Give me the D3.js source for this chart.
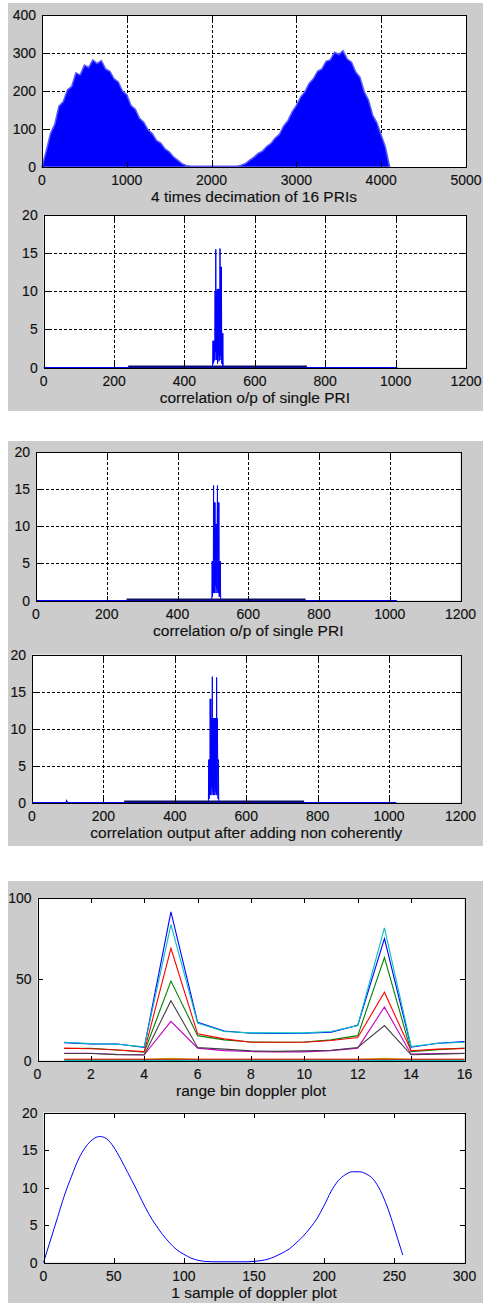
<!DOCTYPE html>
<html>
<head>
<meta charset="utf-8">
<script src="https://cdn.jsdelivr.net/npm/d3@7"></script>
<style>
  body { margin: 0; background: #fff; }
  svg { display: block; }
  text { font-family: "Liberation Sans", Arial, Helvetica, sans-serif; fill: #111; stroke: #111; stroke-width: 0.15px; }
</style>
</head>
<body>
<svg id="fig" width="483" height="1303"></svg>
<script>
// ---------- Figure 1, top: 4 times decimation of 16 PRIs ----------
const decimSpacing = 50;   // samples between stored magnitudes
const decimValues = [
  0, 42, 88, 112, 160, 172, 203, 212, 248, 242,
  268, 262, 282, 272, 280, 258, 252, 232, 224, 200,
  190, 162, 152, 128, 118, 98, 88, 70, 63, 48,
  40, 27, 18, 9, 4, 2, 2, 2, 2, 2,
  2, 2, 2, 2, 2, 2, 2, 5, 9, 18,
  26, 36, 42, 54, 62, 76, 86, 108, 122, 145,
  162, 184, 198, 220, 232, 252, 258, 278, 282, 302,
  296, 306, 284, 276, 250, 236, 198, 176, 136, 116,
  84, 52, 0
];
const decimXTicks = [0, 1000, 2000, 3000, 4000, 5000];
const decimYTicks = [0, 100, 200, 300, 400];

// ---------- correlation o/p of single PRI (first figure) ----------
const corrATicksX = [0, 200, 400, 600, 800, 1000, 1200];
const corrTicksY = [0, 5, 10, 15, 20];
const corrAZero = [[0, 0], [1005, 0]];
const corrAFloor = [[240, 0.12], [748, 0.12]];
const corrAPeak = [
  [480, 0], [481, 3.5], [482, 0.5], [483, 3.5], [484, 0.8], [485, 3.5], [486, 1],
  [487, 10], [488, 2], [489, 15.5], [490, 1], [491, 10], [492, 1], [493, 10.3],
  [494, 0.5], [495, 10.3], [496, 1.5], [497, 10.3], [498, 0.8], [499, 10.3], [500, 1],
  [501, 15.6], [502, 1.5], [503, 13.2], [504, 1], [505, 13.2], [506, 0.5], [507, 4.5],
  [508, 0.3], [509, 4.5], [510, 0]
];

// ---------- correlation o/p of single PRI (second figure) ----------
const corrBZero = [[0, 0], [1020, 0]];
const corrBFloor = [[256, 0.12], [762, 0.12]];
const corrBPeak = [
  [497, 0], [498, 5.3], [499, 0.5], [500, 5.3], [501, 1], [502, 15.5], [503, 1],
  [504, 13.2], [505, 1], [506, 13.2], [507, 2], [508, 10.3], [509, 1], [510, 10.3],
  [511, 1.5], [512, 10.3], [513, 15.5], [514, 1], [515, 13.2], [516, 1], [517, 13.2],
  [518, 0.5], [519, 5.3], [520, 0.5], [521, 5.3], [522, 0]
];

// ---------- correlation output after adding non coherently ----------
const corrCZero = [[0, 0], [95, 0], [97, 0.25], [99, 0], [1020, 0]];
const corrCFloor = [[258, 0.12], [762, 0.12]];
const corrCPeak = [
  [494, 0], [495, 5.8], [496, 0.5], [497, 5.8], [498, 1], [499, 14], [500, 1],
  [501, 14], [502, 2], [503, 11.4], [504, 1], [505, 17], [506, 1.5], [507, 11.4],
  [508, 1], [509, 11.4], [510, 2], [511, 11.4], [512, 1], [513, 11.4], [514, 1.5],
  [515, 11.4], [516, 1], [517, 16.9], [518, 1], [519, 11.4], [520, 5.8], [521, 0.5],
  [522, 5.8], [523, 0]
];

// ---------- range bin doppler plot ----------
const rangeBins = [1, 2, 3, 4, 5, 6, 7, 8, 9, 10, 11, 12, 13, 14, 15, 16];
const binXTicks = [0, 2, 4, 6, 8, 10, 12, 14, 16];
const binYTicks = [0, 50, 100];
const binBlue    = [11, 10.2, 10.2, 8, 91.4, 23.5, 18.2, 16.8, 16.6, 16.8, 17.4, 21.7, 75, 8.2, 10.6, 11.6];
const binGreen   = [7.4, 7.5, 6.5, 5.1, 48.9, 15.3, 12.7, 11.4, 11.2, 11.4, 12.7, 15.3, 63.4, 5.5, 6.7, 7.6];
const binRed     = [7.6, 7.2, 6.5, 5.5, 69, 16.4, 13.3, 11.2, 11.2, 11.2, 12.3, 14.1, 42, 6, 7, 7.4];
const binCyan    = [11.2, 10.4, 10, 8.4, 83.6, 23, 17.8, 17, 17, 17, 17.8, 21.5, 81.6, 8.6, 10.6, 11.2];
const binMagenta = [4.5, 4.5, 3.7, 3.5, 24.1, 7.6, 6.1, 5.5, 5.3, 5.3, 6.1, 7.6, 32.9, 3.9, 4.3, 4.5];
const binOlive   = [0.8, 0.8, 0.8, 0.8, 1.3, 0.8, 0.8, 0.8, 0.8, 0.8, 0.8, 0.8, 1.3, 0.8, 0.8, 0.8];
const binBlack   = [4.3, 4.3, 3.6, 3.4, 36.8, 8, 7, 5.9, 5.6, 5.9, 6.3, 8, 21.5, 3.5, 3.9, 4.3];
const binRedLow  = [0.7, 0.7, 0.7, 0.7, 0.7, 0.7, 0.7, 0.7, 0.7, 0.7, 0.7, 0.7, 0.7, 0.7, 0.7, 0.7];
const binCyanLow = [0.1, 0.1, 0.1, 0.1, 0.1, 0.1, 0.1, 0.1, 0.1, 0.1, 0.1, 0.1, 0.1, 0.1, 0.1, 0.1];

// ---------- 1 sample of doppler plot ----------
const dopBins = [0, 5, 10, 15, 20, 25, 30, 35, 40, 45, 50, 55, 60, 65, 70, 75, 80, 85, 90, 95,
  100, 105, 110, 115, 120, 125, 130, 135, 140, 145, 150, 155, 160, 165, 170, 175, 180, 185,
  190, 195, 200, 205, 210, 215, 220, 225, 230, 235, 240, 245, 250, 255, 256];
const dopMag = [0, 3.0, 6.0, 9.0, 11.5, 13.8, 15.4, 16.4, 16.8, 16.5, 15.4, 13.8, 12.0, 10.2,
  8.3, 6.5, 5.0, 3.7, 2.6, 1.7, 1.1, 0.6, 0.3, 0.15, 0.1, 0.1, 0.1, 0.1, 0.1, 0.1, 0.15, 0.25,
  0.45, 0.8, 1.25, 1.8, 2.6, 3.5, 4.6, 5.9, 7.6, 9.5, 10.9, 11.7, 12.1, 12.1, 11.8, 11.1,
  9.6, 7.4, 4.6, 1.6, 1.0];
const dopXTicks = [0, 50, 100, 150, 200, 250, 300];
const dopYTicks = [0, 5, 10, 15, 20];

// ---------- colours (MATLAB default line order) ----------
const C = {
  blue: "#0000ff", green: "#008000", red: "#ff0000", cyan: "#00bfbf",
  magenta: "#bf00bf", olive: "#bfbf00", black: "#404040"
};

const svg = d3.select("#fig");
svg.append("rect").attr("width", 483).attr("height", 1303).attr("fill", "#ffffff");

// grey figure windows
[[8, 3, 475, 408], [8, 441, 475, 405], [8, 881, 475, 422]].forEach(([x, y, w, h]) => {
  svg.append("rect").attr("x", x).attr("y", y).attr("width", w).attr("height", h).attr("fill", "#cccccc");
});

const px = v => Math.round(v) + 0.5;

// Builds one MATLAB-style axes; returns scales, a data layer, and a finisher for frame/ticks/labels
function makeAxes(box, xDom, yDom, xTicks, yTicks, grid, label) {
  const x = d3.scaleLinear().domain(xDom).range([box.l, box.r]);
  const y = d3.scaleLinear().domain(yDom).range([box.b, box.t]);
  const g = svg.append("g");
  g.append("rect").attr("x", box.l).attr("y", box.t)
    .attr("width", box.r - box.l).attr("height", box.b - box.t).attr("fill", "#fff");

  if (grid) {
    const gg = g.append("g").attr("stroke", "#000").attr("stroke-width", 1)
      .attr("stroke-dasharray", "3,2").attr("shape-rendering", "crispEdges");
    xTicks.slice(1, -1).forEach(t => {
      gg.append("line").attr("x1", px(x(t))).attr("x2", px(x(t))).attr("y1", box.t).attr("y2", box.b);
    });
    yTicks.slice(1, -1).forEach(t => {
      gg.append("line").attr("x1", box.l).attr("x2", box.r).attr("y1", px(y(t))).attr("y2", px(y(t)));
    });
  }
  const data = g.append("g");

  function finish() {
    const f = svg.append("g");
    const tk = f.append("g").attr("stroke", "#000").attr("stroke-width", 1).attr("shape-rendering", "crispEdges");
    const L = 5;
    xTicks.forEach(t => {
      const xx = px(x(t));
      tk.append("line").attr("x1", xx).attr("x2", xx).attr("y1", box.b).attr("y2", box.b - L);
      tk.append("line").attr("x1", xx).attr("x2", xx).attr("y1", box.t).attr("y2", box.t + L);
    });
    yTicks.forEach(t => {
      const yy = px(y(t));
      tk.append("line").attr("x1", box.l).attr("x2", box.l + L).attr("y1", yy).attr("y2", yy);
      tk.append("line").attr("x1", box.r).attr("x2", box.r - L).attr("y1", yy).attr("y2", yy);
    });
    f.append("rect").attr("x", px(box.l)).attr("y", px(box.t))
      .attr("width", Math.round(box.r) - Math.round(box.l)).attr("height", Math.round(box.b) - Math.round(box.t))
      .attr("fill", "none").attr("stroke", "#000").attr("stroke-width", 1).attr("shape-rendering", "crispEdges");

    f.selectAll(null).data(xTicks).join("text")
      .attr("x", d => x(d)).attr("y", box.b + 18)
      .attr("text-anchor", "middle").attr("font-size", 14).text(d => d);
    f.selectAll(null).data(yTicks).join("text")
      .attr("x", box.l - 6).attr("y", d => y(d) + 5)
      .attr("text-anchor", "end").attr("font-size", 14).text(d => d);
    f.append("text").attr("x", (box.l + box.r) / 2).attr("y", box.b + 35)
      .attr("text-anchor", "middle").attr("font-size", 15.5).text(label);
  }
  return { x, y, data, finish };
}

// ---- plot 1: decimated magnitude ----
{
  const a = makeAxes({ l: 42, r: 466, t: 15, b: 167 }, [0, 5000], [0, 400],
    decimXTicks, decimYTicks, true, "4 times decimation of 16 PRIs");
  const area = d3.area()
    .x((d, i) => a.x(i * decimSpacing))
    .y0(a.y(0)).y1(d => a.y(d));
  a.data.append("path").datum(decimValues).attr("d", area)
    .attr("fill", C.blue).attr("stroke", "#5a5aff").attr("stroke-width", 1.5);
  a.finish();
}

// ---- correlation plots ----
function corrPlot(box, zero, floor, peak, label) {
  const a = makeAxes(box, [0, 1200], [0, 20], corrATicksX, corrTicksY, true, label);
  const line = d3.line().x(d => a.x(d[0])).y(d => a.y(d[1]));
  a.data.append("path").datum(zero).attr("d", line)
    .attr("fill", "none").attr("stroke", C.blue).attr("stroke-width", 1.2);
  a.data.append("path").datum(floor).attr("d", line)
    .attr("fill", "none").attr("stroke", "#101060").attr("stroke-width", 2);
  a.data.append("path").datum(peak).attr("d", line)
    .attr("fill", "none").attr("stroke", C.blue).attr("stroke-width", 1);
  a.finish();
}
corrPlot({ l: 43.7, r: 466, t: 215, b: 367.5 }, corrAZero, corrAFloor, corrAPeak, "correlation o/p of single PRI");
corrPlot({ l: 36, r: 460.5, t: 452, b: 600.5 }, corrBZero, corrBFloor, corrBPeak, "correlation o/p of single PRI");
corrPlot({ l: 32, r: 460.5, t: 654.5, b: 802.5 }, corrCZero, corrCFloor, corrCPeak, "correlation output after adding non coherently");

// ---- range bin doppler plot ----
{
  const a = makeAxes({ l: 37.5, r: 464.5, t: 898, b: 1060.5 }, [0, 16], [0, 100],
    binXTicks, binYTicks, false, "range bin doppler plot");
  const line = d3.line().x((d, i) => a.x(rangeBins[i])).y(d => a.y(d));
  [[binBlue, C.blue], [binGreen, C.green], [binRed, C.red], [binCyan, C.cyan],
   [binMagenta, C.magenta], [binOlive, C.olive], [binBlack, C.black],
   [binRedLow, C.red], [binCyanLow, C.cyan]].forEach(([vals, col]) => {
    a.data.append("path").datum(vals).attr("d", line)
      .attr("fill", "none").attr("stroke", col).attr("stroke-width", 1.1);
  });
  a.finish();
}

// ---- 1 sample of doppler plot ----
{
  const a = makeAxes({ l: 43.5, r: 464.5, t: 1112.5, b: 1262.5 }, [0, 300], [0, 20],
    dopXTicks, dopYTicks, false, "1 sample of doppler plot");
  const line = d3.line().x((d, i) => a.x(dopBins[i])).y(d => a.y(d)).curve(d3.curveMonotoneX);
  a.data.append("path").datum(dopMag).attr("d", line)
    .attr("fill", "none").attr("stroke", C.blue).attr("stroke-width", 1);
  a.finish();
}
</script>
</body>
</html>
